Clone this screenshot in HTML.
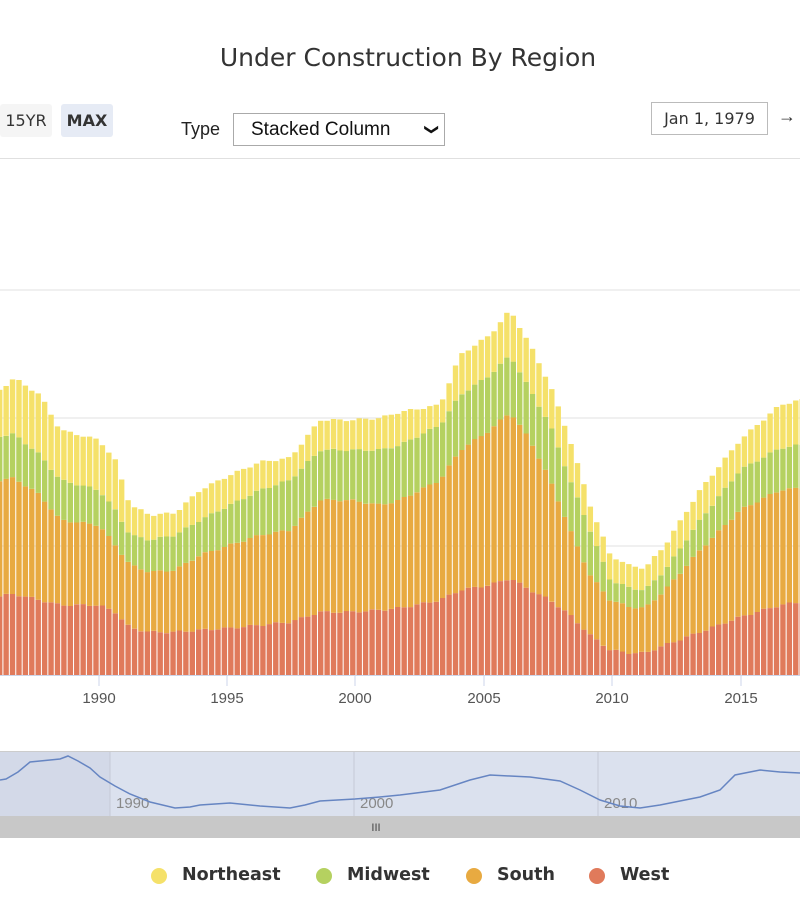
<!DOCTYPE html>
<html><head><meta charset="utf-8"><style>
body{margin:0;width:800px;height:908px;overflow:hidden;background:#fff;font-family:"Liberation Sans",sans-serif;position:relative}
.a{position:absolute}
</style></head><body>
<div class="a" style="left:0;width:816px;top:43px;text-align:center;font-size:25px;color:#333;font-family:'DejaVu Sans',sans-serif">Under Construction By Region</div>
<div class="a" style="left:0;top:104px;width:52px;height:33px;background:#f5f5f5;border-radius:3px;font-size:16px;line-height:33px;color:#333;text-align:center;font-family:'DejaVu Sans',sans-serif">15YR</div>
<div class="a" style="left:61px;top:104px;width:52px;height:33px;background:#e6ebf5;border-radius:3px;font-size:16px;line-height:33px;color:#333;text-align:center;font-weight:bold;font-family:'DejaVu Sans',sans-serif">MAX</div>
<div class="a" style="left:181px;top:119px;font-size:18px;color:#222">Type</div>
<div class="a" style="left:233px;top:113px;width:210px;height:31px;border:1px solid #aaa;font-size:19px;line-height:31px;color:#111;box-sizing:content-box"><span style="margin-left:17px">Stacked Column</span><span style="position:absolute;right:6px;top:0;font-size:14px;transform:rotate(90deg);display:inline-block">&#10095;</span></div>
<div class="a" style="left:651px;top:102px;width:115px;height:31px;border:1px solid #bbb;line-height:31px;color:#333;text-align:center;font-family:'DejaVu Sans',sans-serif;font-size:16px">Jan 1, 1979</div>
<div class="a" style="left:778px;top:106px;font-size:18px;color:#333">→</div>
<div class="a" style="left:0;top:158px;width:800px;height:1px;background:#e0e0e0"></div>
<svg class="a" style="left:0;top:0" width="800" height="908" id="s"></svg>
<div class="a" style="top:865px;left:0;width:800px;font-size:17.5px;font-weight:bold;color:#333;font-family:'DejaVu Sans',sans-serif">
<span class="a" style="left:151px;top:3px;width:16px;height:16px;border-radius:8px;background:#f5e16a"></span><span class="a" style="left:182px">Northeast</span>
<span class="a" style="left:316px;top:3px;width:16px;height:16px;border-radius:8px;background:#b5d160"></span><span class="a" style="left:347px">Midwest</span>
<span class="a" style="left:466px;top:3px;width:16px;height:16px;border-radius:8px;background:#e8aa41"></span><span class="a" style="left:497px">South</span>
<span class="a" style="left:589px;top:3px;width:16px;height:16px;border-radius:8px;background:#e07a5b"></span><span class="a" style="left:620px">West</span>
</div>
<script>
var K=[[0,596,480,436,390],[14,594,478,434,378],[40,600,495,455,395],[60,605,520,480,430],[99,605,525,490,440],[115,612,545,510,460],[130,628,565,535,505],[150,632,572,540,515],[175,632,570,535,513],[200,630,555,520,490],[230,628,545,505,475],[260,625,535,490,462],[290,622,530,480,458],[320,612,500,450,420],[350,612,500,450,420],[380,610,505,450,418],[400,608,500,445,412],[440,600,480,425,405],[460,590,450,395,355],[490,585,430,375,335],[510,578,412,355,310],[530,590,440,390,345],[550,600,480,425,385],[570,615,530,480,440],[590,635,575,530,505],[610,650,600,580,555],[630,653,607,588,566],[645,653,608,590,568],[665,645,590,570,545],[700,632,550,520,490],[740,617,510,470,440],[780,605,490,448,405],[800,602,488,445,400]];
function f(x,i){for(var j=0;j<K.length-1;j++){if(x<=K[j+1][0]){var t=(x-K[j][0])/(K[j+1][0]-K[j][0]);return K[j][i]+t*(K[j+1][i]-K[j][i]);}}return K[K.length-1][i];}
var h='';
[290,418,546].forEach(function(y){h+='<line x1="0" x2="800" y1="'+y+'" y2="'+y+'" stroke="#e0e0e0"/>';});
var C=['#e07a5b','#e8aa41','#b5d160','#f5e16a'],B=675,p=6.42;
for(var x=-3;x<800;x+=p){var c=x+2.6,prev=B;for(var i=1;i<=4;i++){var y=f(Math.max(0,c),i)+Math.sin(c*1.7+i)*1.2;h+='<rect x="'+x.toFixed(2)+'" y="'+y.toFixed(1)+'" width="5.4" height="'+(prev-y).toFixed(1)+'" fill="'+C[i-1]+'"/>';prev=y;}}
h+='<line x1="0" x2="800" y1="675.5" y2="675.5" stroke="#ccd6eb"/>';
[[99,1990],[355,2000],[612,2010],[741,2015],[227,1995],[484,2005]].forEach(function(a){h+='<line x1="'+a[0]+'" x2="'+a[0]+'" y1="676" y2="686" stroke="#ccd6eb"/><text x="'+a[0]+'" y="703" text-anchor="middle" font-size="15" fill="#555" font-family="Liberation Sans">'+a[1]+'</text>';});
h+='<rect x="0" y="752" width="800" height="64" fill="#dbe1ee"/><rect x="0" y="752" width="110" height="64" fill="#d3d9e8"/><line x1="0" x2="800" y1="751.5" y2="751.5" stroke="#ccc"/>';
[110,354,598].forEach(function(x){h+='<line x1="'+x+'" x2="'+x+'" y1="752" y2="816" stroke="#c4c9d6"/>';});
[[116,1990],[360,2000],[604,2010]].forEach(function(a){h+='<text x="'+a[0]+'" y="808" font-size="15" fill="#888" font-family="Liberation Sans">'+a[1]+'</text>';});
var N=[[0,780],[6,779],[18,772],[30,762],[40,761],[60,759],[68,756],[78,761],[90,768],[100,777],[115,786],[130,794],[150,802],[175,808],[190,807],[200,805],[230,803],[260,806],[290,808],[305,805],[320,801],[355,799],[380,797],[400,795],[440,790],[470,780],[490,775],[510,776],[530,777],[560,781],[580,790],[600,800],[620,806],[640,808],[660,805],[700,797],[720,790],[735,775],[760,770],[780,772],[800,773]];
h+='<polyline fill="none" stroke="#6685c2" stroke-width="1.5" points="'+N.map(function(q){return q[0]+','+q[1]}).join(' ')+'"/>';
h+='<rect x="0" y="816" width="800" height="22" fill="#c8c8c8"/><text x="376" y="831" font-size="11" fill="#444" text-anchor="middle" font-family="Liberation Sans">III</text>';
document.getElementById('s').innerHTML=h;
</script>
</body></html>
